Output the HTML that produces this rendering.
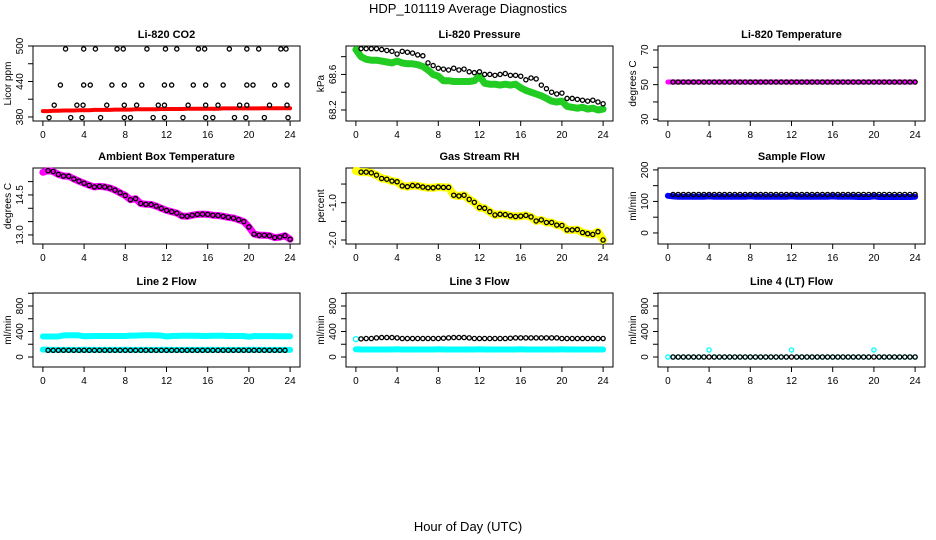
<!DOCTYPE html>
<html><head><meta charset="utf-8"><style>
body{margin:0;background:#fff}
svg{display:block;font-family:"Liberation Sans",Arial,sans-serif}
</style></head><body>
<svg id="chart" width="936" height="540" viewBox="0 0 936 540">
<text x="468" y="13" text-anchor="middle" font-size="13">HDP_101119  Average Diagnostics</text>
<text x="468" y="531" text-anchor="middle" font-size="13">Hour of Day (UTC)</text>
</svg>
<script>
// ---- data ----
const hoursHalf = [0,0.5,1,1.5,2,2.5,3,3.5,4,4.5,5,5.5,6,6.5,7,7.5,8,8.5,9,9.5,10,10.5,11,11.5,12,12.5,13,13.5,14,14.5,15,15.5,16,16.5,17,17.5,18,18.5,19,19.5,20,20.5,21,21.5,22,22.5,23,23.5,24];
const xTicks = [0,4,8,12,16,20,24];
const co2BlackX = [2.2,3.96,5.1,7.2,7.8,10.1,11.9,13.0,15.1,15.7,18.1,19.8,20.95,23.1,23.6, 1.7,3.96,4.6,6.7,7.9,9.6,11.8,12.5,14.6,15.8,17.5,19.8,20.4,22.5,23.7, 1.1,3.3,3.9,6.2,7.9,9.1,11.2,11.8,14.1,15.8,17.0,19.1,19.8,22.0,23.7, 0.6,2.7,3.8,5.6,7.9,8.5,10.7,11.8,13.6,15.8,16.5,18.6,19.7,21.5,23.8];
const co2BlackY = [495,495,495,495,495,495,495,495,495,495,495,495,495,495,495, 434,434,434,434,434,434,434,434,434,434,434,434,434,434,434, 400,400,400,400,400,400,400,400,400,400,400,400,400,400,400, 379,379,379,379,379,379,379,379,379,379,379,379,379,379,379];
const co2Red = [390,390,390.5,390.5,391,391,391,391.5,391.5,391.5,392,392,392,392,392.5,392.5,392.5,392.5,393,393,393,393,393,393.5,393.5,393.5,393.5,393.5,394,394,394,394,394,394,394,394.5,394.5,394.5,394.5,394.5,394.5,394.5,394.5,394.7,394.7,394.7,394.7,394.7,394.7];
const pressBlack = [68.89,68.89,68.89,68.89,68.88,68.87,68.86,68.83,68.86,68.85,68.84,68.82,68.81,68.73,68.70,68.67,68.66,68.65,68.67,68.65,68.66,68.63,68.62,68.63,68.60,68.60,68.59,68.60,68.61,68.59,68.59,68.58,68.54,68.56,68.55,68.48,68.44,68.40,68.38,68.39,68.33,68.33,68.32,68.31,68.30,68.31,68.29,68.27];
const pressGreen = [68.88,68.80,68.77,68.76,68.76,68.75,68.74,68.73,68.75,68.73,68.72,68.72,68.71,68.69,68.65,68.60,68.58,68.53,68.53,68.52,68.52,68.52,68.52,68.53,68.58,68.50,68.49,68.49,68.48,68.49,68.48,68.49,68.45,68.42,68.40,68.38,68.36,68.33,68.30,68.29,68.30,68.24,68.23,68.22,68.23,68.21,68.22,68.20,68.21];
const tempMag = [51.5,51.5,51.5,51.5,51.5,51.5,51.5,51.5,51.5,51.5,51.5,51.5,51.5,51.5,51.5,51.5,51.5,51.5,51.5,51.5,51.5,51.5,51.5,51.5,51.5,51.5,51.5,51.5,51.5,51.5,51.5,51.5,51.5,51.5,51.5,51.5,51.5,51.5,51.5,51.5,51.5,51.5,51.5,51.5,51.5,51.5,51.5,51.5,51.5];
const tempBlack = [51.5,51.5,51.5,51.5,51.5,51.5,51.5,51.5,51.5,51.5,51.5,51.5,51.5,51.5,51.5,51.5,51.5,51.5,51.5,51.5,51.5,51.5,51.5,51.5,51.5,51.5,51.5,51.5,51.5,51.5,51.5,51.5,51.5,51.5,51.5,51.5,51.5,51.5,51.5,51.5,51.5,51.5,51.5,51.5,51.5,51.5,51.5,51.5];
const ambMag = [15.35,15.41,15.38,15.27,15.21,15.20,15.10,15.02,14.94,14.86,14.80,14.82,14.80,14.76,14.68,14.58,14.48,14.32,14.36,14.18,14.15,14.14,14.08,14.00,13.92,13.87,13.82,13.71,13.70,13.74,13.77,13.78,13.77,13.74,13.73,13.70,13.66,13.63,13.57,13.50,13.30,13.03,12.99,12.99,12.97,12.90,12.92,12.97,12.84];
const ambBlack = [15.41,15.38,15.27,15.21,15.20,15.10,15.02,14.94,14.86,14.80,14.82,14.80,14.76,14.68,14.58,14.48,14.32,14.36,14.18,14.15,14.14,14.08,14.00,13.92,13.87,13.82,13.71,13.70,13.74,13.77,13.78,13.77,13.74,13.73,13.70,13.66,13.63,13.57,13.50,13.30,13.03,12.99,12.99,12.97,12.90,12.92,12.97,12.84];
const rhYellow = [-0.15,-0.18,-0.18,-0.20,-0.26,-0.35,-0.37,-0.42,-0.44,-0.55,-0.57,-0.54,-0.55,-0.58,-0.60,-0.60,-0.58,-0.59,-0.59,-0.80,-0.82,-0.80,-0.91,-0.99,-1.13,-1.15,-1.24,-1.33,-1.31,-1.32,-1.35,-1.37,-1.36,-1.34,-1.38,-1.49,-1.46,-1.53,-1.53,-1.60,-1.61,-1.73,-1.73,-1.72,-1.80,-1.83,-1.85,-1.78,-2.00];
const rhBlack = [-0.18,-0.18,-0.20,-0.26,-0.35,-0.37,-0.42,-0.44,-0.55,-0.57,-0.54,-0.55,-0.58,-0.60,-0.60,-0.58,-0.59,-0.59,-0.80,-0.82,-0.80,-0.91,-0.99,-1.13,-1.15,-1.24,-1.33,-1.31,-1.32,-1.35,-1.37,-1.36,-1.34,-1.38,-1.49,-1.46,-1.53,-1.53,-1.60,-1.61,-1.73,-1.73,-1.72,-1.80,-1.83,-1.85,-1.78,-2.00];
const sampleBlue = [118,116,115,115,115,115,115,115,116,115,115,115,115,115,115,115,116,115,115,115,115,115,115,115,116,115,115,115,115,115,115,115,116,115,115,115,115,114,114,114,116,114,114,114,114,114,114,114,115];
const sampleBlack = [122,122,122,122,122,122,122,122,122,122,122,122,122,122,122,122,122,122,122,122,122,122,122,122,122,122,122,122,122,122,122,122,122,122,122,122,122,122,122,122,122,122,122,122,122,122,122,122];
const line2CyanHi = [322,322,322,322,338,340,340,338,325,328,330,330,330,330,330,330,330,335,335,338,340,340,338,335,322,330,330,332,332,332,332,330,330,332,332,332,330,330,330,330,318,328,328,328,328,328,326,326,326];
const line2CyanLo = [118,115,112,112,112,112,112,112,115,112,112,112,112,112,112,112,115,112,112,112,112,112,112,112,115,112,112,112,112,112,112,112,115,112,112,112,112,112,112,112,115,112,112,112,112,112,112,112,112];
const line2Black = [105,105,105,105,105,105,105,105,105,105,105,105,105,105,105,105,105,105,105,105,105,105,105,105,105,105,105,105,105,105,105,105,105,105,105,105,105,105,105,105,105,105,105,105,105,105,105];
const line3CyanLo = [120,118,118,118,118,118,118,118,120,118,118,118,118,118,118,118,120,118,118,118,118,118,118,118,120,118,118,118,118,118,118,118,120,118,118,118,118,118,118,118,120,118,118,118,118,118,118,118,118];
const line3Black = [285,290,290,300,305,305,305,300,290,290,290,290,290,290,290,290,295,300,305,305,305,300,290,290,290,290,290,290,290,295,300,300,300,300,300,300,300,300,300,290,290,290,290,290,290,290,290,290];
const line4Cyan = [0,0,0,0,0,0,0,0,110,0,0,0,0,0,0,0,0,0,0,0,0,0,0,0,110,0,0,0,0,0,0,0,0,0,0,0,0,0,0,0,110,0,0,0,0,0,0,0,0];
const line4Black = [0,0,0,0,0,0,0,0,0,0,0,0,0,0,0,0,0,0,0,0,0,0,0,0,0,0,0,0,0,0,0,0,0,0,0,0,0,0,0,0,0,0,0,0,0,0,0,0];
const ticksCo2 = [380,410,440,470,500], labelsCo2 = ["380","","440","","500"];
const ticksPress = [68.2,68.4,68.6,68.8], labelsPress = ["68.2","","68.6",""];
const ticksTemp = [30,40,50,60,70], labelsTemp = ["30","","50","","70"];
const ticksAmb = [13,13.5,14,14.5,15], labelsAmb = ["13.0","","","14.5",""];
const ticksRh = [-2,-1.5,-1,-0.5], labelsRh = ["-2.0","","-1.0",""];
const ticksSample = [0,50,100,150,200], labelsSample = ["0","","100","","200"];
const ticksFlow = [0,200,400,600,800,1000], labelsFlow = ["0","","400","","800",""];

// ---- drawing ----
const NS = "http://www.w3.org/2000/svg";
const svg = document.getElementById("chart");
const colL = [33,346,658], W = 267;
const rows = [[46,121],[168,244],[293,367]];
function mk(tag, attrs, parent){
  const e = document.createElementNS(NS, tag);
  for (const k in attrs) e.setAttribute(k, attrs[k]);
  (parent||svg).appendChild(e); return e;
}
function panel(col,row,title,ylab,ylim,ticks,labels,name){
  const g = mk("g",{});
  
  
  const L = colL[col], T = rows[row][0], B = rows[row][1];
  const xs = h => L + (h+0.96)/25.92*W;
  const ys = v => B - (v-ylim[0])/(ylim[1]-ylim[0])*(B-T);
  const box = mk("rect",{x:L,y:T,width:W,height:B-T,fill:"none",stroke:"#000","stroke-width":1},g);
  
  
  const t = mk("text",{x:L+W/2,y:T-8,"text-anchor":"middle","font-size":"11","font-weight":"bold"},g);
  t.textContent = title;
  
  
  const xa = mk("g",{},g);
  
  
  mk("line",{x1:xs(0),x2:xs(24),y1:B,y2:B,stroke:"#000"},xa);
  xTicks.forEach(h=>{
    mk("line",{x1:xs(h),x2:xs(h),y1:B,y2:B+5,stroke:"#000"},xa);
    const tx = mk("text",{x:xs(h),y:B+17,"text-anchor":"middle","font-size":"10"},xa);
    tx.textContent = h;
  });
  const ya = mk("g",{},g);
  
  
  ticks.forEach((v,i)=>{
    const y = ys(v);
    mk("line",{x1:L-5,x2:L,y1:y,y2:y,stroke:"#000"},ya);
    if (labels[i]) {
      const tx = mk("text",{x:0,y:0,"text-anchor":"middle","font-size":"10",transform:`translate(${L-10},${y}) rotate(-90)`},ya);
      tx.textContent = labels[i];
    }
  });
  const yl = mk("text",{x:0,y:0,"text-anchor":"middle","font-size":"10",transform:`translate(${L-22},${(T+B)/2}) rotate(-90)`},g);
  yl.textContent = ylab;
  
  
  return {g,xs,ys};
}
function band(p,xsArr,vals,color,width,name){
  const pts = vals.map((v,i)=>p.xs(xsArr[i]).toFixed(1)+","+p.ys(v).toFixed(1)).join(" ");
  const pl = mk("polyline",{points:pts,fill:"none",stroke:color,"stroke-width":width,"stroke-linejoin":"round","stroke-linecap":"round"},p.g);
  
  
}
function dots(p,xsArr,vals,color,name,r){
  const g = mk("g",{},p.g);
  
  
  vals.forEach((v,i)=>{
    mk("circle",{cx:p.xs(xsArr[i]),cy:p.ys(v),r:r||2.1,fill:"none",stroke:color,"stroke-width":1.3},g);
  });
}
const hoursBlack = hoursHalf.slice(1);

let p;
p = panel(0,0,"Li-820 CO2","Licor ppm",[373.2,500],ticksCo2,labelsCo2,"co2");
band(p,hoursHalf,co2Red,"#ff0000",4,"co2-red-series");
dots(p,co2BlackX,co2BlackY,"#000","co2-black-points");

p = panel(1,0,"Li-820 Pressure","kPa",[68.076,68.92],ticksPress,labelsPress,"pressure");
band(p,hoursHalf,pressGreen,"#22cc22",7,"pressure-green-series");
dots(p,hoursBlack,pressBlack,"#000","pressure-black-points");

p = panel(2,0,"Li-820 Temperature","degrees C",[29.0,72.3],ticksTemp,labelsTemp,"temperature");
band(p,hoursHalf,tempMag,"#ff00ff",5,"temperature-magenta-series");
dots(p,hoursBlack,tempBlack,"#000","temperature-black-points");

p = panel(0,1,"Ambient Box Temperature","degrees C",[12.66,15.51],ticksAmb,labelsAmb,"ambient");
band(p,hoursHalf,ambMag,"#ff00ff",7,"ambient-magenta-series");
dots(p,hoursBlack,ambBlack,"#000","ambient-black-points");

p = panel(1,1,"Gas Stream RH","percent",[-2.107,-0.07],ticksRh,labelsRh,"rh");
band(p,hoursHalf,rhYellow,"#ffff00",8,"rh-yellow-series");
dots(p,hoursBlack,rhBlack,"#000","rh-black-points");

p = panel(2,1,"Sample Flow","ml/min",[-35,206],ticksSample,labelsSample,"sample-flow");
band(p,hoursHalf,sampleBlue,"#0000ff",6,"sample-flow-blue-series");
dots(p,hoursBlack,sampleBlack,"#000","sample-flow-black-points");

p = panel(0,2,"Line 2 Flow","ml/min",[-157,1004],ticksFlow,labelsFlow,"line2");
band(p,hoursHalf,line2CyanHi,"#00ffff",6,"line2-cyan-upper");
band(p,hoursHalf,line2CyanLo,"#00ffff",6,"line2-cyan-lower");
dots(p,hoursBlack,line2Black,"#000","line2-black-points");

p = panel(1,2,"Line 3 Flow","ml/min",[-157,1004],ticksFlow,labelsFlow,"line3");
band(p,hoursHalf,line3CyanLo,"#00ffff",6,"line3-cyan-lower");
dots(p,[0],[280],"#00ffff","line3-cyan-start",2.5);
dots(p,hoursBlack,line3Black,"#000","line3-black-points");

p = panel(2,2,"Line 4 (LT) Flow","ml/min",[-157,1004],ticksFlow,labelsFlow,"line4");
dots(p,hoursHalf,line4Cyan,"#00ffff","line4-cyan-points");
dots(p,hoursBlack,line4Black,"#000","line4-black-points");
</script>
</body></html>
